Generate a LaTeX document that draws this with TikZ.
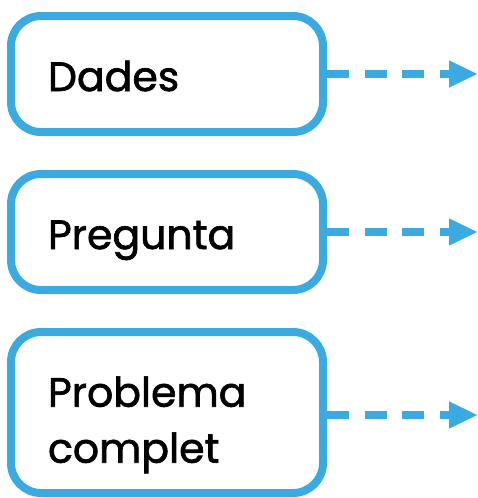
\documentclass[tikz,border=0pt]{standalone}
\usepackage{fontspec}
\setmainfont{Poppins}
\newfontfamily\boxfont{Poppins}[FakeBold=1.6]
\usetikzlibrary{arrows.meta}
\definecolor{boxblue}{RGB}{58,170,224}
\begin{document}
\begin{tikzpicture}[x=1pt,y=-1pt,
  box/.style={draw=boxblue, line width=8pt, rounded corners=30pt, rectangle,
    minimum width=312pt, inner xsep=37pt, inner ysep=0pt, text width=238pt, align=left,
    font=\boxfont\fontsize{41}{56}\selectfont, text=black},
  oneline/.style={minimum height=116pt, text height=34pt, text depth=0pt},
  flow/.style={draw=boxblue, line width=8pt, dash pattern=on 22pt off 15.5pt,
    -{Triangle[length=29pt,width=25pt]}}]
\useasboundingbox (0,0) rectangle (478,498);
\node[box, oneline] (b1) at (167,74) {Dades};
\node[box, oneline] (b2) at (167,232) {Pregunta};
\node[box, minimum height=161pt] (b3) at (167,412.5) {\rule{0pt}{55pt}Problema\\complet};
\coordinate (e1) at (478,74);
\coordinate (e2) at (478,232);
\coordinate (e3) at (478,415);
\draw[flow] (b1.east) -- (e1);
\draw[flow] (b2.east) -- (e2);
\draw[flow] (b3.east |- e3) -- (e3);
\end{tikzpicture}
\end{document}
